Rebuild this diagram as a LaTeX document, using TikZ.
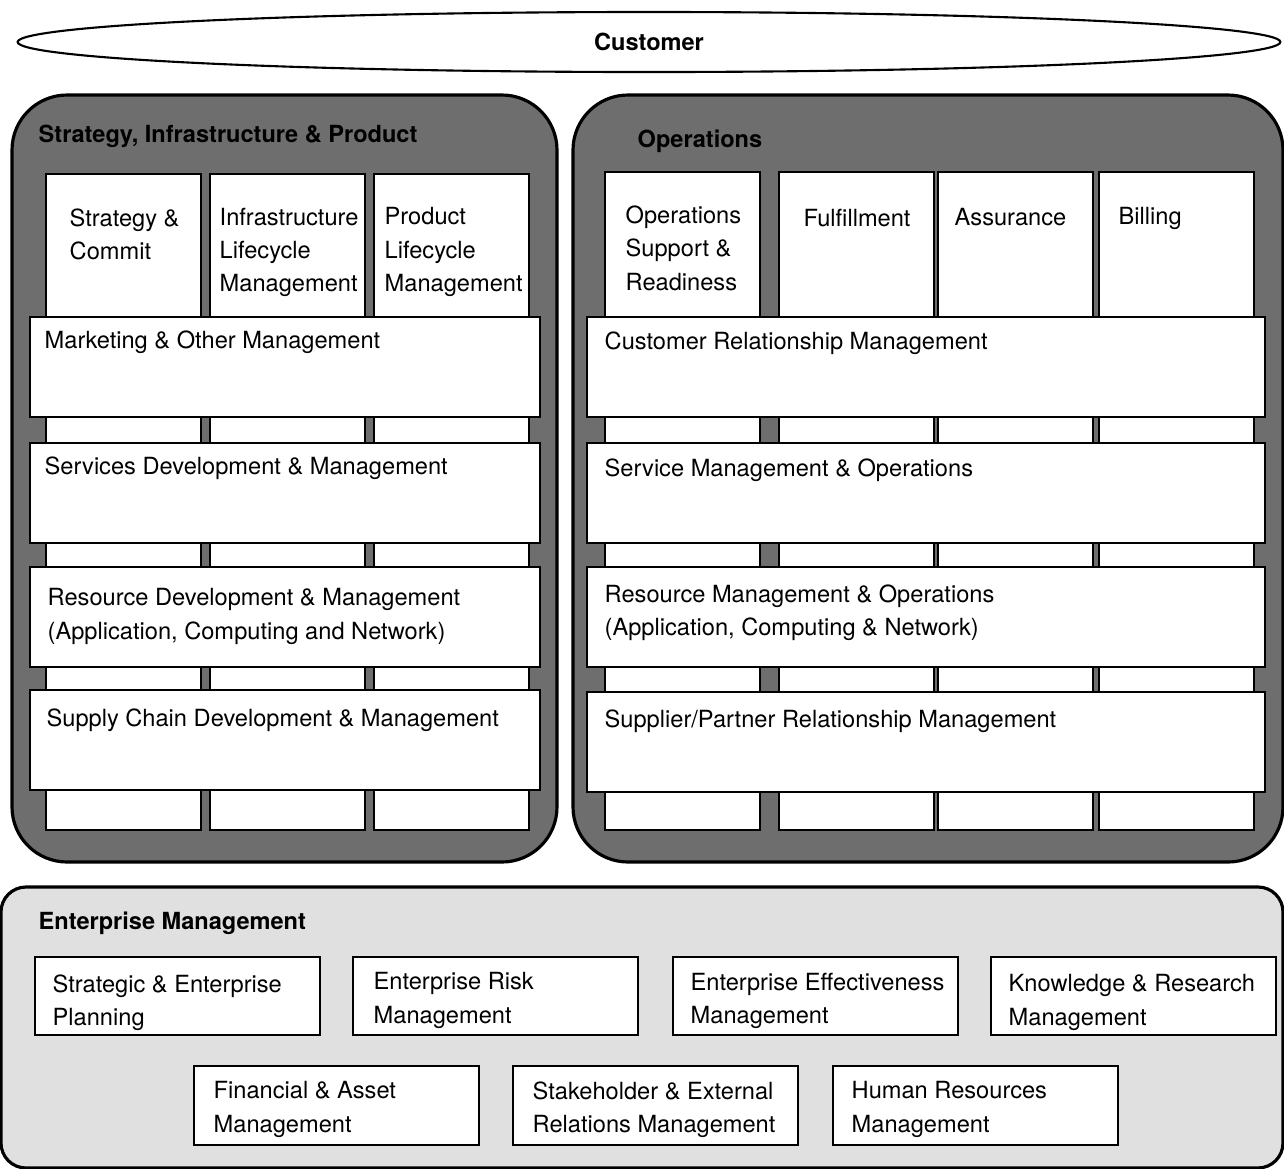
\documentclass[tikz,border=0pt]{standalone}
\usepackage{fontspec}
\setmainfont{TeX Gyre Heros}
\usetikzlibrary{shapes.geometric}

\begin{document}
\begin{tikzpicture}[x=0.01cm, y=-0.01cm,
        box/.style={draw, fill=white, line width=0.7pt},
        panel/.style={draw, line width=0.9pt, rounded corners=0.55cm},
        lbl/.style={anchor=north west, inner sep=0pt, align=left, font=\fontsize{6.72}{9.5}\selectfont},
        ttl/.style={anchor=west, inner sep=0pt, font=\fontsize{6.7}{9.5}\selectfont\bfseries}]
        \useasboundingbox (0, 0) rectangle (1284, 1169);

        \node[draw, ellipse, line width=0.6pt, inner sep=0pt, minimum width=12.62cm, minimum height=0.6cm] (cust) at (649, 42) {};
        \node at (cust.center)[inner sep=0pt, font=\fontsize{6.7}{9.5}\selectfont\bfseries] (custlbl) {Customer};

        % panels
        \draw[panel, fill=black!57] (12, 95) rectangle (557, 862);
        \draw[panel, fill=black!57] (573, 95) rectangle (1283, 862);
        \draw[panel, fill=black!12, rounded corners=0.25cm] (1, 887) rectangle (1283, 1168);
        \node at (38, 136)[ttl] (sip) {Strategy, Infrastructure \& Product};
        \node at (637, 141)[ttl] (ops) {Operations};
        \node at (38, 923)[ttl] (ent) {Enterprise Management};

        % columns
        \foreach \x in {46, 210, 374}
            \draw[box] (\x, 174) rectangle ++(155, 656);
        \foreach \x in {605, 779, 938, 1099}
            \draw[box] (\x, 172) rectangle ++(155, 658);
        \node at (69, 208)[lbl] (sc) {Strategy \&\\Commit};
        \node at (219, 207)[lbl] (ilm) {Infrastructure\\Lifecycle\\Management};
        \node at (384, 207)[lbl] (plm) {Product\\Lifecycle\\Management};
        \node at (625, 205)[lbl] (osr) {Operations\\Support \&\\Readiness};
        \node at (803, 208)[lbl] (ful) {Fulfillment};
        \node at (954, 208)[lbl] (ass) {Assurance};
        \node at (1118, 207)[lbl] (bil) {Billing};

        % rows
        \foreach \y in {317, 443, 567, 690}
            \draw[box] (30, \y) rectangle ++(510, 100);
        \foreach \y in {317, 443, 567, 692}
            \draw[box] (587, \y) rectangle ++(678, 100);
        \node at (44, 330)[lbl] (mom) {Marketing \& Other Management};
        \node at (44, 456)[lbl] (sdm) {Services Development \& Management};
        \node at (47, 588)[lbl] (rdm) {Resource Development \& Management\\(Application, Computing and Network)};
        \node at (46, 708)[lbl] (scdm) {Supply Chain Development \& Management};
        \node at (604, 331)[lbl] (crm) {Customer Relationship Management};
        \node at (604, 458)[lbl] (smo) {Service Management \& Operations};
        \node at (604, 584)[lbl] (rmo) {Resource Management \& Operations\\(Application, Computing \& Network)};
        \node at (604, 709)[lbl] (sprm) {Supplier/Partner Relationship Management};

        % enterprise management
        \foreach \x in {35, 353, 673, 991}
            \draw[box] (\x, 957) rectangle ++(285, 78);
        \foreach \x in {194, 513, 833}
            \draw[box] (\x, 1066) rectangle ++(285, 79);
        \node at (52, 974)[lbl] (sep) {Strategic \& Enterprise\\Planning};
        \node at (373, 972)[lbl] (erm) {Enterprise Risk\\Management};
        \node at (690, 972)[lbl] (eem) {Enterprise Effectiveness\\Management};
        \node at (1008, 974)[lbl] (krm) {Knowledge \& Research\\Management};
        \node at (213, 1081)[lbl] (fam) {Financial \& Asset\\Management};
        \node at (532, 1081)[lbl] (serm) {Stakeholder \& External\\Relations Management};
        \node at (851, 1081)[lbl] (hrm) {Human Resources\\Management};
    \end{tikzpicture}
\end{document}
